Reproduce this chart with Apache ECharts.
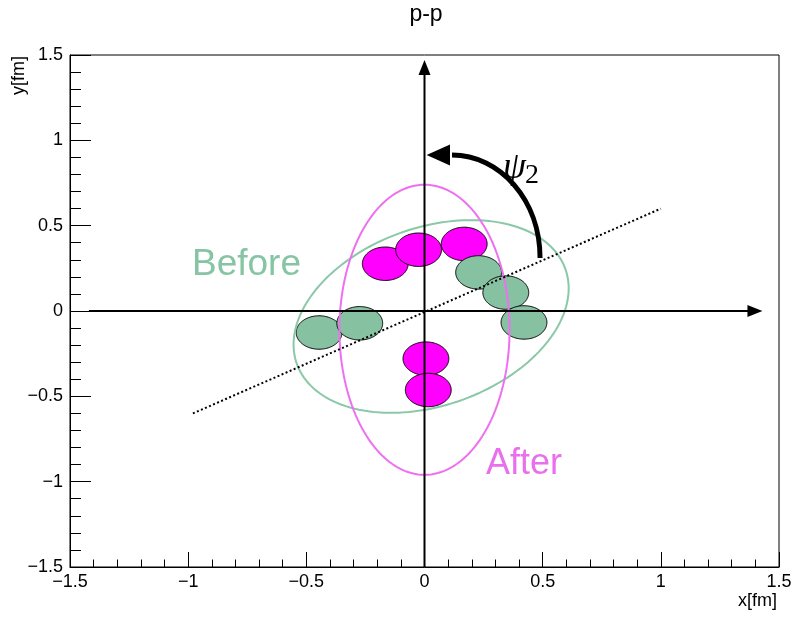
<!DOCTYPE html>
<html><head><meta charset="utf-8">
<script src="https://cdn.jsdelivr.net/npm/echarts@6/dist/echarts.min.js"></script>
<style>html,body{margin:0;padding:0;background:#fff}#c{width:795px;height:617px}</style>
</head><body><div id="c"></div>
<script>
// ---- data (fm) ----
const axisTicks = [-1.5, -1, -0.5, 0, 0.5, 1, 1.5];
const greenX = [-0.446, -0.274, 0.229, 0.344, 0.421];
const greenY = [-0.126, -0.072, 0.226, 0.108, -0.067];
const magentaX = [-0.166, -0.025, 0.168, 0.006, 0.016];
const magentaY = [0.277, 0.359, 0.393, -0.279, -0.463];
const nucleonR = [0.097, 0.098];                 // r1, r2
const ellipseBefore = [0.028, -0.032, 0.652, 0.482, 42]; // cx, cy, r1, r2, theta(deg)
const ellipseAfter = [0.0, -0.11, 0.36, 0.85, 0];
const planeX = [-0.98, 1.0];
const planeY = [-0.6, 0.6];
const xArrow = [-1.42, 0, 1.43, 0];
const yArrow = [0, -1.5, 0, 1.47];
const psiCurve = [0.489, 0.31, 0.489, 0.65, 0.32, 0.914, 0.108, 0.914];
const psiTip = [0.009, 0.914];

const FONT = '"Liberation Sans", Helvetica, Arial, sans-serif';
const chart = echarts.init(document.getElementById('c'));

function ellipseRender(fill, stroke, lw) {
  return function (params, api) {
    const cx = api.value(0), cy = api.value(1), r1 = api.value(2), r2 = api.value(3);
    const th = api.value(4) * Math.PI / 180, ct = Math.cos(th), st = Math.sin(th);
    const pts = [];
    const N = 160;
    for (let i = 0; i < N; i++) {
      const a = i / N * 2 * Math.PI;
      const dx = r1 * Math.cos(a), dy = r2 * Math.sin(a);
      pts.push(api.coord([cx + dx * ct - dy * st, cy + dx * st + dy * ct]));
    }
    return { type: 'polygon', shape: { points: pts }, style: { fill: fill, stroke: stroke, lineWidth: lw } };
  };
}
function arrowRender(headLen, headHalf, lw) {
  return function (params, api) {
    const p1 = api.coord([api.value(0), api.value(1)]);
    const p2 = api.coord([api.value(2), api.value(3)]);
    const dx = p2[0] - p1[0], dy = p2[1] - p1[1], L = Math.hypot(dx, dy);
    const ux = dx / L, uy = dy / L;
    const b = [p2[0] - ux * headLen, p2[1] - uy * headLen];
    return { type: 'group', children: [
      { type: 'line', shape: { x1: p1[0], y1: p1[1], x2: b[0] + ux * 2, y2: b[1] + uy * 2 }, style: { stroke: '#000', lineWidth: lw } },
      { type: 'polygon', shape: { points: [p2, [b[0] - uy * headHalf, b[1] + ux * headHalf], [b[0] + uy * headHalf, b[1] - ux * headHalf]] }, style: { fill: '#000' } }
    ] };
  };
}
function curveRender(params, api) {
  const P = [];
  for (let i = 0; i < 4; i++) P.push(api.coord([api.value(2 * i), api.value(2 * i + 1)]));
  const tip = api.coord([api.value(8), api.value(9)]);
  const base = P[3];
  const dx = tip[0] - base[0], dy = tip[1] - base[1], L = Math.hypot(dx, dy);
  const ux = dx / L, uy = dy / L, h = 10.5;
  return { type: 'group', children: [
    { type: 'bezierCurve', shape: { x1: P[0][0], y1: P[0][1], cpx1: P[1][0], cpy1: P[1][1], cpx2: P[2][0], cpy2: P[2][1], x2: P[3][0] - ux * 2, y2: P[3][1] - uy * 2 },
      style: { stroke: '#000', lineWidth: 5, fill: null } },
    { type: 'polygon', shape: { points: [tip, [base[0] - uy * h, base[1] + ux * h], [base[0] + uy * h, base[1] - ux * h]] }, style: { fill: '#000' } }
  ] };
}

const fmt = v => String(v).replace('-', '\u2212');
const nuc = (xs, ys) => xs.map((x, i) => [x, ys[i], nucleonR[0], nucleonR[1], 0]);

chart.setOption({
  animation: false,
  grid: { left: 70, right: 16, top: 55, bottom: 50, show: true, borderColor: '#000', borderWidth: 1 },
  xAxis: {
    type: 'value', min: axisTicks[0], max: axisTicks[axisTicks.length - 1], interval: 0.5,
    axisLine: { onZero: false, lineStyle: { color: '#000', width: 1 } },
    axisTick: { inside: true, length: 15, lineStyle: { color: '#000' } },
    minorTick: { show: true, splitNumber: 5, length: 7.5, lineStyle: { color: '#000' } },
    splitLine: { show: false },
    axisLabel: { formatter: fmt, fontFamily: FONT, fontSize: 18, color: '#000', margin: 6, showMinLabel: true, showMaxLabel: true }
  },
  yAxis: {
    type: 'value', min: axisTicks[0], max: axisTicks[axisTicks.length - 1], interval: 0.5,
    axisLine: { onZero: false, lineStyle: { color: '#000', width: 1 } },
    axisTick: { inside: true, length: 21, lineStyle: { color: '#000' } },
    minorTick: { show: true, splitNumber: 5, length: 11, lineStyle: { color: '#000' } },
    splitLine: { show: false },
    axisLabel: { formatter: fmt, fontFamily: FONT, fontSize: 18, color: '#000', margin: 7, showMinLabel: true, showMaxLabel: true }
  },
  series: [
    { type: 'custom', z: 2, renderItem: ellipseRender('#ff00ff', '#000', 1), encode: { x: 0, y: 1 }, data: nuc(magentaX, magentaY) },
    { type: 'custom', z: 3, renderItem: ellipseRender('#86c2a2', '#000', 1), encode: { x: 0, y: 1 }, data: nuc(greenX, greenY) },
    { type: 'custom', z: 4, renderItem: ellipseRender(null, '#8bc8a8', 2), encode: { x: 0, y: 1 }, data: [ellipseBefore] },
    { type: 'custom', z: 4, renderItem: ellipseRender(null, '#ee70f0', 2), encode: { x: 0, y: 1 }, data: [ellipseAfter] },
    { type: 'custom', z: 5, renderItem: arrowRender(15, 6, 2), encode: { x: [0, 2], y: [1, 3] }, data: [xArrow, yArrow] },
    { type: 'line', z: 6, symbol: 'none', data: planeX.map((x, i) => [x, planeY[i]]),
      lineStyle: { color: '#000', width: 2, type: [2, 2.4] } },
    { type: 'custom', z: 7, renderItem: curveRender, encode: { x: 0, y: 1 }, data: [psiCurve.concat(psiTip)] }
  ],
  graphic: [
    { type: 'text', x: 426, y: 15, style: { text: 'p-p', font: '23px ' + FONT, fill: '#000', align: 'center', verticalAlign: 'middle' } },
    { type: 'text', x: 19, y: 56, rotation: Math.PI / 2, style: { text: 'y[fm]', font: '18px ' + FONT, fill: '#000', align: 'right', verticalAlign: 'middle' } },
    { type: 'text', x: 777, y: 601, style: { text: 'x[fm]', font: '18px ' + FONT, fill: '#000', align: 'right', verticalAlign: 'middle' } },
    { type: 'text', x: 192, y: 265, z: 10, style: { text: 'Before', font: '37px ' + FONT, fill: '#86c4a3', align: 'left', verticalAlign: 'middle' } },
    { type: 'text', x: 486, y: 464, z: 10, style: { text: 'After', font: '36px ' + FONT, fill: '#ea6fee', align: 'left', verticalAlign: 'middle' } },
    { type: 'text', x: 503, y: 168, z: 10, style: { text: '\u03C8', font: 'italic 37px "Liberation Serif", "DejaVu Serif", serif', fill: '#000', align: 'left', verticalAlign: 'middle' } },
    { type: 'text', x: 525, y: 176, z: 10, style: { text: '2', font: '28px "Liberation Serif", "DejaVu Serif", serif', fill: '#000', align: 'left', verticalAlign: 'middle' } }
  ]
});
</script></body></html>
